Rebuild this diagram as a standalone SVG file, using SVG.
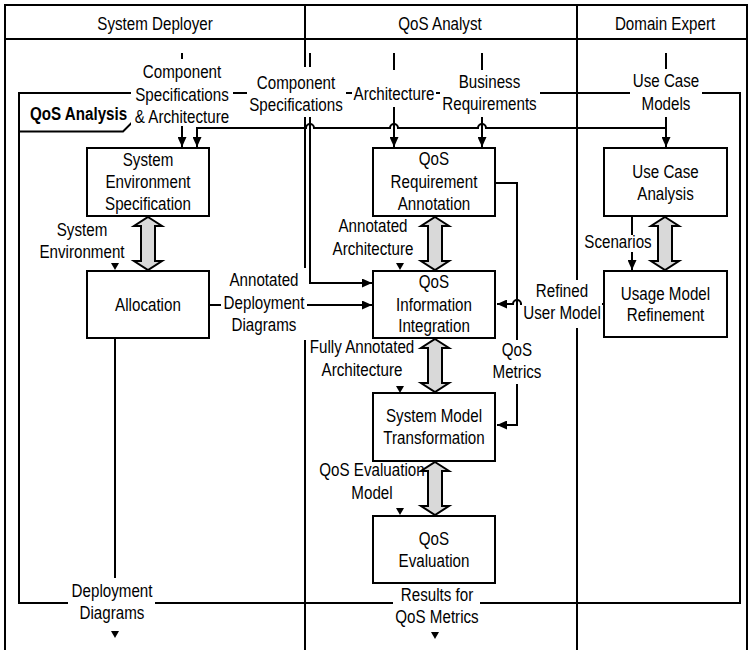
<svg xmlns="http://www.w3.org/2000/svg" xmlns:xlink="http://www.w3.org/1999/xlink" width="749" height="650" viewBox="0 0 749 650">
  <style>
    text { font-family: "Liberation Sans", Arial, sans-serif; font-size: 18.5px; fill: #000; text-anchor: middle;
           transform-box: fill-box; transform-origin: center; transform: scaleX(0.82); }
    .title { font-weight: bold; text-anchor: start; transform-origin: left center; }
    .lane { stroke: #000; stroke-width: 2; fill: none; }
    .frame { stroke: #000; stroke-width: 2; fill: none; }
    .conn { stroke: #000; stroke-width: 2; fill: none; }
    .box { stroke: #000; stroke-width: 2; fill: #fff; }
    .bg { fill: #fff; stroke: none; }
    .dbl { fill: #d9d9d9; stroke: #000; stroke-width: 2; stroke-linejoin: miter; }
    .tip { fill: #000; stroke: none; }
  </style>
  <defs>
    <marker id="ah" viewBox="0 0 10 10" refX="10" refY="5" markerWidth="10" markerHeight="9" markerUnits="userSpaceOnUse" orient="auto" preserveAspectRatio="none">
      <path d="M0,0 L10,5 L0,10 Z" fill="#000"/>
    </marker>
    <!-- two-way block arrow between consecutive activities, 53px tall -->
    <path id="dbl" d="M0,0 L14,9 L7,9 L7,44 L14,44 L0,53 L-14,44 L-7,44 L-7,9 L-14,9 Z"/>
    <!-- small pin arrowhead, tip at origin -->
    <path id="pin" d="M-4,-7 L4,-7 L0,0 Z"/>
  </defs>

  <rect width="749" height="650" fill="#fff"/>

  <!-- swimlanes -->
  <g id="swimlanes">
    <path class="lane" d="M5,660 V5 H747 V660"/>
    <path class="lane" d="M5,39 H747"/>
    <path class="lane" d="M305,5 V650"/>
    <path class="lane" d="M577,5 V650"/>
    <text x="155" y="30.5">System Deployer</text>
    <text x="440" y="30.5">QoS Analyst</text>
    <text x="665" y="30.5">Domain Expert</text>
  </g>

  <!-- activity frame -->
  <g id="frame">
    <rect class="frame" x="19" y="93" width="721" height="510"/>
    <path class="frame" d="M19,131.5 H123 L135,119.5"/>
    <text class="title" x="30" y="120">QoS Analysis</text>
  </g>

  <!-- connectors -->
  <g id="connectors">
    <path class="conn" d="M182,53 V147" marker-end="url(#ah)"/>
    <path class="conn" d="M310,53 V283 H372" marker-end="url(#ah)"/>
    <path class="conn" d="M394,53 V147" marker-end="url(#ah)"/>
    <path class="conn" d="M482,53 V147" marker-end="url(#ah)"/>
    <path class="conn" d="M666,53 V147" marker-end="url(#ah)"/>
    <path class="conn" d="M666,128 H486 A4,4 0 0 0 478,128 H398 A4,4 0 0 0 390,128 H314 A4,4 0 0 0 306,128 H197 V147" marker-end="url(#ah)"/>
    <path class="conn" d="M209,305 H372" marker-end="url(#ah)"/>
    <path class="conn" d="M604,304 H521 A4,4 0 0 0 513,304 H497" marker-end="url(#ah)"/>
    <path class="conn" d="M495,183 H517 V425 H497" marker-end="url(#ah)"/>
    <path class="conn" d="M632,217 V270" marker-end="url(#ah)"/>
    <path class="conn" d="M115,339 V580"/>

    <use href="#dbl" class="dbl" x="148" y="217"/>
    <use href="#dbl" class="dbl" x="435" y="217"/>
    <use href="#dbl" class="dbl" x="665" y="217"/>
    <use href="#dbl" class="dbl" x="435" y="339"/>
    <use href="#dbl" class="dbl" x="435" y="462"/>

    <use href="#pin" class="tip" x="115" y="270"/>
    <use href="#pin" class="tip" x="400" y="270"/>
    <use href="#pin" class="tip" x="400" y="393"/>
    <use href="#pin" class="tip" x="400" y="515"/>
    <use href="#pin" class="tip" x="115" y="638"/>
    <use href="#pin" class="tip" x="435" y="639"/>
  </g>

  <!-- object flow labels -->
  <g id="labels">
    <rect class="bg" x="131" y="59" width="102" height="67"/>
    <text x="182" y="78.5">Component</text>
    <text x="182" y="101">Specifications</text>
    <text x="182" y="123.5">&amp; Architecture</text>

    <rect class="bg" x="247" y="67" width="99" height="50"/>
    <text x="296" y="89">Component</text>
    <text x="296" y="111.5">Specifications</text>

    <rect class="bg" x="352" y="70" width="84" height="37"/>
    <text x="394" y="100">Architecture</text>

    <rect class="bg" x="440" y="70" width="100" height="47"/>
    <text x="489.5" y="88">Business</text>
    <text x="489.5" y="110.5">Requirements</text>

    <rect class="bg" x="630" y="69" width="72" height="48"/>
    <text x="666" y="87.5">Use Case</text>
    <text x="666" y="110.5">Models</text>

    <text x="82" y="236.5">System</text>
    <text x="82" y="258.5">Environment</text>

    <rect class="bg" x="221" y="268" width="86" height="72"/>
    <text x="264" y="286">Annotated</text>
    <text x="264" y="309">Deployment</text>
    <text x="264" y="331">Diagrams</text>

    <text x="373" y="232.5">Annotated</text>
    <text x="373" y="255">Architecture</text>

    <text x="362" y="353.5">Fully Annotated</text>
    <text x="362" y="376">Architecture</text>

    <rect class="bg" x="491" y="340" width="52" height="44"/>
    <text x="517" y="356.5">QoS</text>
    <text x="517" y="378.5">Metrics</text>

    <rect class="bg" x="522" y="280" width="80" height="48"/>
    <text x="562" y="297.5">Refined</text>
    <text x="562" y="319.5">User Model</text>

    <rect class="bg" x="581" y="235" width="74" height="17"/>
    <text x="618" y="248.5">Scenarios</text>

    <text x="372" y="476.5">QoS Evaluation</text>
    <text x="372" y="499">Model</text>

    <rect class="bg" x="68" y="578" width="87" height="47"/>
    <text x="112" y="597.5">Deployment</text>
    <text x="112" y="619.5">Diagrams</text>

    <rect class="bg" x="393" y="585" width="87" height="43"/>
    <text x="437" y="601">Results for</text>
    <text x="437" y="623.5">QoS Metrics</text>
  </g>

  <!-- activities -->
  <g id="system-environment-specification">
    <rect class="box" x="87" y="148" width="122" height="68"/>
    <text x="148" y="166.5">System</text>
    <text x="148" y="188.5">Environment</text>
    <text x="148" y="210.5">Specification</text>
  </g>
  <g id="allocation">
    <rect class="box" x="87" y="271" width="122" height="67"/>
    <text x="148" y="311">Allocation</text>
  </g>
  <g id="qos-requirement-annotation">
    <rect class="box" x="373" y="148" width="122" height="68"/>
    <text x="434" y="165.5">QoS</text>
    <text x="434" y="188">Requirement</text>
    <text x="434" y="210">Annotation</text>
  </g>
  <g id="qos-information-integration">
    <rect class="box" x="373" y="271" width="122" height="67"/>
    <text x="434" y="288.5">QoS</text>
    <text x="434" y="311">Information</text>
    <text x="434" y="332.5">Integration</text>
  </g>
  <g id="system-model-transformation">
    <rect class="box" x="373" y="393" width="122" height="68"/>
    <text x="434" y="422">System Model</text>
    <text x="434" y="444.5">Transformation</text>
  </g>
  <g id="qos-evaluation">
    <rect class="box" x="373" y="516" width="122" height="67"/>
    <text x="434" y="545">QoS</text>
    <text x="434" y="567">Evaluation</text>
  </g>
  <g id="use-case-analysis">
    <rect class="box" x="604" y="148" width="123" height="68"/>
    <text x="665.5" y="178.5">Use Case</text>
    <text x="665.5" y="200">Analysis</text>
  </g>
  <g id="usage-model-refinement">
    <rect class="box" x="604" y="271" width="123" height="66"/>
    <text x="665.5" y="300">Usage Model</text>
    <text x="665.5" y="321.5">Refinement</text>
  </g>
</svg>
